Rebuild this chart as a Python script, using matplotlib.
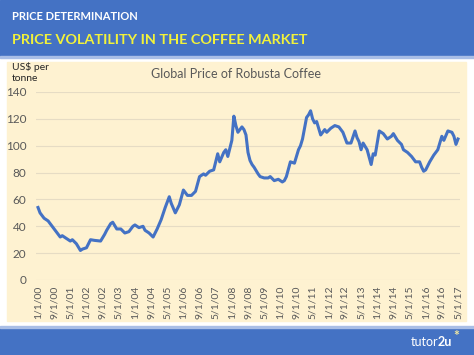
import matplotlib
matplotlib.use("Agg")
import matplotlib.pyplot as plt
from matplotlib.patches import Rectangle
import pandas as pd

plt.rcParams['font.family'] = ['Lato', 'DejaVu Sans']

# Robusta price readings (US$ per tonne scale as on the chart), month "YYYY-MM"
dates = [
    "2000-01", "2000-02", "2000-04", "2000-06", "2000-08", "2000-09", "2000-11", "2000-12",
    "2001-01", "2001-03", "2001-05", "2001-06", "2001-08", "2001-10", "2001-11", "2002-01",
    "2002-03", "2002-05", "2002-08", "2002-10", "2002-11", "2003-01", "2003-02", "2003-04",
    "2003-06", "2003-08", "2003-10", "2003-12", "2004-01", "2004-03", "2004-05", "2004-06",
    "2004-08", "2004-10", "2004-12", "2005-02", "2005-04", "2005-06", "2005-07", "2005-09",
    "2005-11", "2006-01", "2006-03", "2006-05", "2006-07", "2006-09", "2006-11", "2006-12",
    "2007-02", "2007-04", "2007-06", "2007-07", "2007-09", "2007-10", "2007-11", "2008-01",
    "2008-02", "2008-03", "2008-04", "2008-06", "2008-07", "2008-08", "2008-09", "2008-10",
    "2008-11", "2008-12", "2009-02", "2009-03", "2009-05", "2009-07", "2009-08", "2009-10",
    "2009-12", "2010-02", "2010-03", "2010-04", "2010-06", "2010-08", "2010-10", "2010-11",
    "2010-12", "2011-02", "2011-03", "2011-04", "2011-05", "2011-06", "2011-07", "2011-09",
    "2011-10", "2011-11", "2011-12", "2012-02", "2012-04", "2012-06", "2012-08", "2012-10",
    "2012-12", "2013-02", "2013-03", "2013-04", "2013-05", "2013-06", "2013-08", "2013-10",
    "2013-11", "2013-12", "2014-02", "2014-04", "2014-06", "2014-08", "2014-09", "2014-11",
    "2015-01", "2015-02", "2015-04", "2015-06", "2015-08", "2015-10", "2015-11", "2015-12",
    "2016-01", "2016-03", "2016-05", "2016-07", "2016-09", "2016-10", "2016-12", "2017-02",
    "2017-03", "2017-04", "2017-05",
]
prices = [
    54, 50, 46, 44, 40, 38, 34, 32,
    33, 31, 29, 30, 27, 22, 23, 24,
    30, 29.5, 29, 34, 37, 42, 43, 38,
    38, 35, 36, 40, 41, 39, 40, 37,
    35, 32, 38, 45, 54, 62, 57, 50,
    56, 67, 63, 63, 66, 77, 79, 78,
    81, 82, 94, 88, 95, 97, 92, 104,
    122, 115, 110, 114, 112, 108, 95, 89,
    86, 84, 79, 77, 76, 76, 77, 74,
    75, 73, 74, 77, 88, 87, 97, 100,
    105, 121, 123, 126, 120, 117, 118, 108,
    110, 112, 110, 113, 115, 114, 110, 102,
    102, 111, 106, 103, 97, 102, 97, 86,
    94, 93, 111, 109, 105, 107, 109, 104,
    101, 97, 95, 92, 88, 88, 84, 81,
    82, 88, 93, 97, 107, 104, 111, 110,
    107, 101, 105,
]
tick_dates = pd.date_range("2000-01-01", "2017-05-01", freq="8MS")
y_ticks = [0, 20, 40, 60, 80, 100, 120, 140]

BLUE = "#4472C4"
BEIGE = "#FEF2D1"
W, H = 474, 355


def month_index(d):
    d = pd.Timestamp(d)
    return (d.year - 2000) * 12 + d.month - 1


xs = [month_index(d) for d in dates]
tick_pos = [month_index(d) for d in tick_dates]
tick_lab = [f"{d.month}/{d.day}/{d.strftime('%y')}" for d in tick_dates]

fig = plt.figure(figsize=(W / 100, H / 100), dpi=100)
fig.patch.set_facecolor("white")

# banners and chart background (pixel boxes, origin top-left)
def px_rect(x0, y0, x1, y1, color):
    fig.patches.append(Rectangle((x0 / W, 1 - y1 / H), (x1 - x0) / W, (y1 - y0) / H,
                                 transform=fig.transFigure, color=color, zorder=-5))

px_rect(0, 0, W, 56, BLUE)
px_rect(0, 56, W, 57.5, "#A9BEE6")
px_rect(7, 62, 466, 321, BEIGE)
px_rect(0, 327, W, H, BLUE)
px_rect(0, 326, W, 327.5, "#A9BEE6")

fig.text(12 / W, 1 - 17 / H, "PRICE DETERMINATION", color="white", fontsize=8,
         fontweight="bold", va="center", ha="left")
fig.text(12 / W, 1 - 40 / H, "PRICE VOLATILITY IN THE COFFEE MARKET", color="#F2F23A",
         fontsize=10.4, fontweight="bold", va="center", ha="left")
fig.text(12 / W, 1 - 62 / H, "US$ per\ntonne", color="#262626", fontsize=7.5,
         va="top", ha="left", linespacing=1.25)
fig.text(236 / W, 1 - 74 / H, "Global Price of Robusta Coffee", color="#595959",
         fontsize=9, va="center", ha="center")

# logo
fig.text(452 / W, 1 - 342 / H, "2u", color="white", fontsize=9, fontweight="bold",
         va="center", ha="right")
fig.text(438 / W, 1 - 342 / H, "tutor", color="white", fontsize=9, va="center", ha="right")
fig.text(456 / W, 1 - 336 / H, "*", color="#F3E9A0", fontsize=10, fontweight="bold",
         va="center", ha="center")

ax = fig.add_axes([36 / W, 1 - 280 / H, (460 - 36) / W, (280 - 92) / H])
ax.set_facecolor("none")
ax.plot(xs, prices, color=BLUE, lw=2.2, solid_joinstyle="round", zorder=3)

ax.set_xlim(-1, 209)
ax.set_ylim(0, 140)
ax.set_yticks(y_ticks)
ax.set_xticks(tick_pos)
ax.set_xticklabels(tick_lab, rotation=90)
ax.tick_params(axis="y", length=0, pad=7, labelsize=8.5, labelcolor="#595959")
ax.tick_params(axis="x", length=0, pad=4, labelsize=7.5, labelcolor="#595959")
ax.grid(axis="y", color="#E6DCC4", lw=0.8)
ax.set_axisbelow(True)
for s in ax.spines.values():
    s.set_visible(False)

fig.savefig("out.png", dpi=100)
